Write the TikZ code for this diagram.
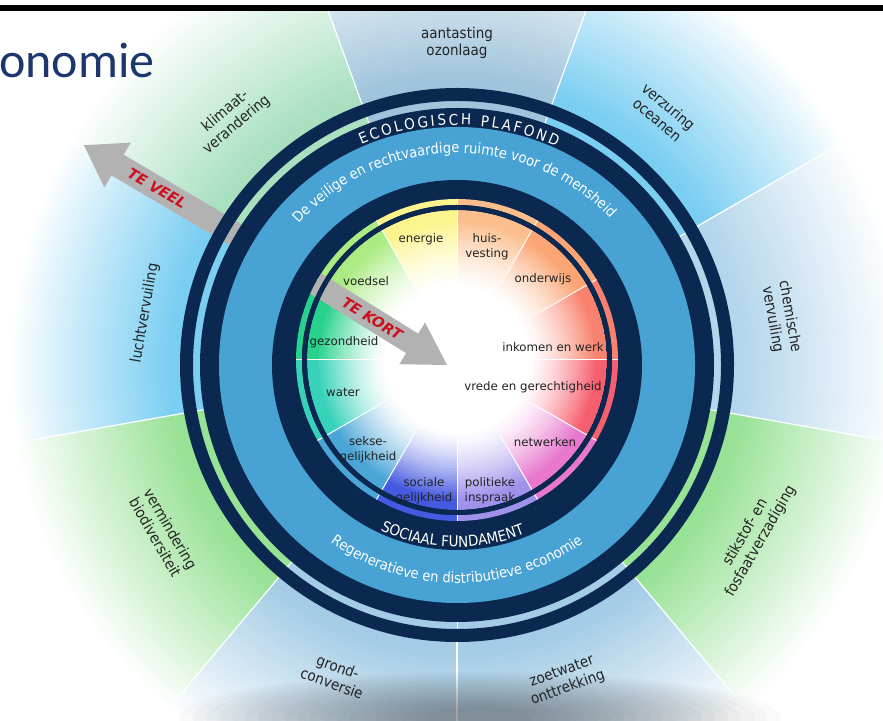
\documentclass[tikz,border=0pt]{standalone}
\usepackage{fontspec}
\setmainfont{DejaVu Sans}
\newfontfamily\condf{DejaVu Sans}[FakeStretch=0.9]
\newfontfamily\titlef{Carlito}
\usetikzlibrary{decorations.text}
\definecolor{dnavy}{RGB}{11,40,80}
\definecolor{mblue}{RGB}{72,162,212}
\definecolor{agray}{RGB}{178,178,178}
\definecolor{tered}{RGB}{205,15,30}
\definecolor{ttlblue}{RGB}{28,55,110}
\definecolor{lbl}{RGB}{35,35,35}
% planetary wedges
\definecolor{wOz}{RGB}{160,196,220}
\definecolor{wOc}{RGB}{122,206,242}
\definecolor{wCh}{RGB}{180,214,236}
\definecolor{wSt}{RGB}{152,226,150}
\definecolor{wZo}{RGB}{164,204,230}
\definecolor{wGr}{RGB}{164,204,230}
\definecolor{wBi}{RGB}{152,226,150}
\definecolor{wLu}{RGB}{122,206,242}
\definecolor{wKl}{RGB}{168,224,192}
% social segments
\definecolor{sEn}{RGB}{252,244,140}
\definecolor{sHu}{RGB}{251,190,140}
\definecolor{sOn}{RGB}{250,165,115}
\definecolor{sIn}{RGB}{249,130,110}
\definecolor{sVr}{RGB}{246,95,110}
\definecolor{sNe}{RGB}{232,120,205}
\definecolor{sPo}{RGB}{160,145,235}
\definecolor{sSo}{RGB}{70,90,225}
\definecolor{sSe}{RGB}{75,165,215}
\definecolor{sWa}{RGB}{55,210,185}
\definecolor{sGe}{RGB}{40,210,140}
\definecolor{sVo}{RGB}{170,236,130}
\newcommand\arcA{\condf\fontsize{14.5}{16}\selectfont\color{white}}
\newcommand\arcB{\condf\fontsize{15}{16}\selectfont\color{white}}
\begin{document}
\begin{tikzpicture}[x=1pt,y=1pt,
  pb/.style={font=\condf\fontsize{15}{17.5}\selectfont, text=lbl, align=center, inner sep=0pt},
  sg/.style={font=\fontsize{11.8}{15}\selectfont, text=lbl, align=center, inner sep=0pt},
  warn/.style={font=\bfseries\itshape\fontsize{14.5}{15}\selectfont, text=tered, inner sep=0pt},
  divline/.style={white, line width=1pt}]
\useasboundingbox (0,0) rectangle (883,720);
\coordinate (Cout) at (457,355);
\coordinate (Cin) at (457,360);
% ---- planetary wedges fading to white (stepped gradient)
\begin{scope}
\clip (0,0) rectangle (883,720);
\foreach \a/\c in {90/wOz,50/wOc,10/wCh,-30/wSt,-70/wZo,-110/wGr,-150/wBi,170/wLu,130/wKl}{
  \begin{scope}
  \clip (Cout) -- +(\a-20:720pt) -- +(\a+20:720pt) -- cycle;
  \foreach \r in {450,446,...,286}{
    \pgfmathsetmacro\p{min(100,(450-\r)/1.62)}
    \fill[\c!\p!white] (Cout) circle (\r pt);
  }
  \end{scope}
}
\foreach \a in {110,70,30,-10,-50,-90,-130,-170,150}
  \draw[white, line width=1.2pt] (Cout) ++(\a:277pt) -- +(\a:500pt);
% shadow under the doughnut
\foreach \k in {0,...,19}{
  \pgfmathsetmacro\rx{300-13*\k}
  \pgfmathsetmacro\ry{46-1.9*\k}
  \fill[black, opacity=0.018] (480,2) ellipse [x radius=\rx pt, y radius=\ry pt];
}
\end{scope}
% ---- title strip
\fill[white] (0,715) rectangle (883,720);
\fill[black] (0,709) rectangle (883,715);
\node[anchor=base west, inner sep=0pt, font=\titlef\fontsize{50}{50}\selectfont, text=ttlblue] (ttl) at (-1,642) {onomie};
% ---- outer thin coloured ring
\foreach \a/\c in {90/wOz,50/wOc,10/wCh,-30/wSt,-70/wZo,-110/wGr,-150/wBi,170/wLu,130/wKl}
  \fill[\c] (Cout) -- +(\a-20:265pt) arc[start angle=\a-20, end angle=\a+20, radius=265pt] -- cycle;
\foreach \a in {110,70,30,-10,-50,-90,-130,-170,150}
  \draw[divline] (Cout) ++(\a:256pt) -- +(\a:9pt);
% ---- TE VEEL arrow
\begin{scope}[shift={(457,355)}, rotate=149.5]
\fill[agray] (250,-12) -- (394,-12) -- (394,-26) -- (433,0) -- (394,26) -- (394,12) -- (250,12) -- cycle;
\node[warn, rotate=-30.5] (teveel) at (348,0) {TE VEEL};
\end{scope}
% ---- rings
\draw[dnavy, line width=13pt] (Cout) circle (270.5pt);
\fill[dnavy] (Cout) circle (257pt);
\fill[mblue] (Cout) circle (238pt);
\fill[dnavy] (Cout) circle (185pt);
% ---- inner coloured ring and segments
\foreach \a/\c in {105/sEn,75/sHu,45/sOn,15/sIn,-15/sVr,-45/sNe,-75/sPo,-105/sSo,-135/sSe,-165/sWa,165/sGe,135/sVo}
  \fill[\c] (Cin) -- +(\a-15:161pt) arc[start angle=\a-15, end angle=\a+15, radius=161pt] -- cycle;
\foreach \a in {0,30,...,330}
  \draw[divline] (Cin) ++(\a:155pt) -- +(\a:6pt);
\fill[dnavy] (Cin) circle (155pt);
\foreach \a/\c in {105/sEn,75/sHu,45/sOn,15/sIn,-15/sVr,-45/sNe,-75/sPo,-105/sSo,-135/sSe,-165/sWa,165/sGe,135/sVo}{
  \begin{scope}
  \clip (Cin) -- +(\a-15:150pt) arc[start angle=\a-15, end angle=\a+15, radius=150pt] -- cycle;
  \foreach \r in {150,147,...,72}{
    \pgfmathsetmacro\p{100*(min(1,(\r-72)/69))^1.4}
    \fill[\c!\p!white] (Cin) circle (\r pt);
  }
  \end{scope}
}
\fill[white] (Cin) circle (73pt);
\foreach \a in {0,30,...,330}
  \draw[white, line width=1pt] (Cin) ++(\a:70pt) -- +(\a:80pt);
% ---- TE KORT arrow
\begin{scope}
\clip (Cin) circle (161pt);
\begin{scope}[shift={(447,355)}, rotate=-31.8]
\fill[agray] (-165,-11.5) -- (-41,-11.5) -- (-41,-24.5) -- (0,0) -- (-41,24.5) -- (-41,11.5) -- (-165,11.5) -- cycle;
\end{scope}
\end{scope}
\draw[dnavy, line width=5pt] (Cin) circle (152.5pt);
\begin{scope}[shift={(447,355)}, rotate=-31.8]
\node[warn, rotate=-31.8] (tekort) at (-88,0) {TE KORT};
\end{scope}
% ---- curved ring texts
\path[shift={(457,355)}, decorate, decoration={text along path, text align=center,
  text={|\arcA|De veilige en rechtvaardige ruimte voor de mensheid}}]
  (171:212pt) arc[start angle=171, end angle=11, radius=212pt];
\path[shift={(457,355)}, decorate, decoration={text along path, text align=center,
  text={|\arcA|Regeneratieve en distributieve  economie}}]
  (-150:218pt) arc[start angle=-150, end angle=-30, radius=218pt];
\path[shift={(457,355)}, decorate, decoration={text along path, text align=center,
  text={|\arcB|SOCIAAL FUNDAMENT}}]
  (-141.5:182pt) arc[start angle=-141.5, end angle=-41.5, radius=182pt];
\path[shift={(457,355)}, decorate, decoration={text along path, text align=fit to path,
  text={|\arcB|ECOLOGISCH PLAFOND}}]
  (113.5:240pt) arc[start angle=113.5, end angle=65.5, radius=240pt];
% ---- planetary labels
\node[pb] (ozon) at (457,677) {aantasting\\ozonlaag};
\node[pb, rotate=-40] (ocean) at (663,607) {verzuring\\oceanen};
\node[pb, rotate=-80] (chem) at (781,402) {chemische\\vervuiling};
\node[pb, rotate=60] (stik) at (753,183) {stikstof- en\\fosfaatverzadiging};
\node[pb, rotate=20] (zoet) at (565,40) {zoetwater\\onttrekking};
\node[pb, rotate=-20] (grond) at (335,45) {grond-\\conversie};
\node[pb, rotate=-60] (bio) at (163,187) {vermindering\\biodiversiteit};
\node[pb, rotate=80] (lucht) at (145,407) {luchtvervuiling};
\node[pb, rotate=40] (klim) at (231,602) {klimaat-\\verandering};
% ---- social labels
\node[sg] (en) at (421,481) {energie};
\node[sg] (hu) at (487,473) {huis-\\vesting};
\node[sg] (on) at (543,441) {onderwijs};
\node[sg] (ink) at (553,373) {inkomen en werk};
\node[sg] (vr) at (533,333) {vrede en gerechtigheid};
\node[sg] (ne) at (545,278) {netwerken};
\node[sg] (po) at (490,229) {politieke\\inspraak};
\node[sg] (so) at (424,229) {sociale\\gelijkheid};
\node[sg] (se) at (368,270) {sekse-\\gelijkheid};
\node[sg] (wa) at (343,328) {water};
\node[sg] (ge) at (344,378) {gezondheid};
\node[sg] (vo) at (366,439) {voedsel};
\end{tikzpicture}
\end{document}
